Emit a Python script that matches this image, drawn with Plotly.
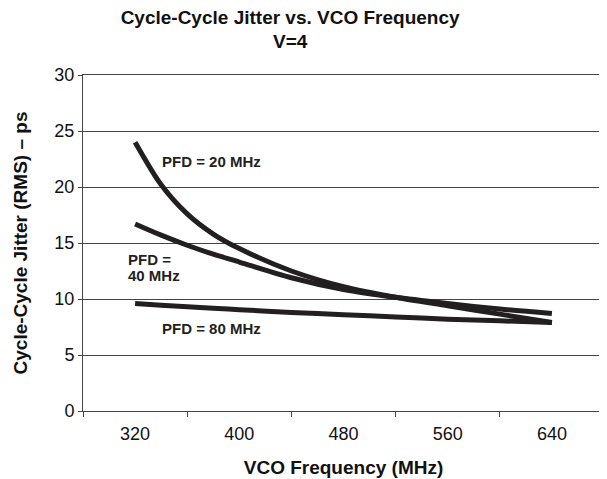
import plotly.graph_objects as go

freq = [320, 340, 360, 380, 400, 440, 480, 520, 560, 600, 640]
pfd20 = [24.0, 20.2, 17.6, 15.8, 14.5, 12.5, 11.1, 10.15, 9.4, 8.65, 7.9]
pfd40 = [16.7, 15.7, 14.8, 14.0, 13.3, 11.9, 10.85, 10.15, 9.6, 9.1, 8.7]
pfd80 = [9.6, 9.45, 9.3, 9.17, 9.05, 8.8, 8.6, 8.4, 8.2, 8.05, 7.9]

x_labels = [320, 400, 480, 560, 640]
x_ticks = [280, 360, 440, 520, 600, 680]
y_ticks = [0, 5, 10, 15, 20, 25, 30]

line_color = "#231f20"
font = "Liberation Sans, Arial, sans-serif"

fig = go.Figure()
for ys in (pfd20, pfd40, pfd80):
    fig.add_trace(go.Scatter(x=freq, y=ys, mode="lines",
                             line=dict(color=line_color, width=5, shape="spline",
                                       smoothing=0.8),
                             showlegend=False, hoverinfo="skip"))

ann_font = dict(family=font, size=15, color="#231f20")
fig.add_annotation(x=339, y=22.3, text="<b>PFD = 20 MHz</b>", showarrow=False,
                   xanchor="left", yanchor="middle", font=ann_font)
fig.add_annotation(x=313, y=13.57, text="<b>PFD =</b>", showarrow=False,
                   xanchor="left", yanchor="middle", font=ann_font)
fig.add_annotation(x=313, y=12.14, text="<b>40 MHz</b>", showarrow=False,
                   xanchor="left", yanchor="middle", font=ann_font)
fig.add_annotation(x=339, y=7.4, text="<b>PFD = 80 MHz</b>", showarrow=False,
                   xanchor="left", yanchor="middle", font=ann_font)

fig.update_layout(
    width=599, height=471,
    margin=dict(l=75, r=3, t=67, b=68),
    paper_bgcolor="white", plot_bgcolor="white",
    font=dict(family=font, color="#111"),
    title=dict(text="<b>Cycle-Cycle Jitter vs. VCO Frequency<br>V=4</b>",
               x=0.471, xanchor="center", xref="container",
               y=0.967, yanchor="top",
               font=dict(family=font, size=19, color="#111")),
    xaxis=dict(range=[280, 680], tickmode="array", tickvals=x_labels,
               ticktext=[str(v) for v in x_labels], ticks="", ticklabelstandoff=6,
               showgrid=False, zeroline=False, showline=True, linecolor="#444",
               linewidth=1, mirror=True,
               tickfont=dict(family=font, size=18, color="#111"),
               minor=dict(tickmode="array", tickvals=x_ticks, ticks="outside",
                          ticklen=5, tickcolor="#444", showgrid=False),
               title=dict(text="<b>VCO Frequency (MHz)</b>", standoff=18,
                          font=dict(family=font, size=19, color="#111"))),
    yaxis=dict(range=[0, 30], tickmode="array", tickvals=y_ticks,
               ticks="outside", ticklen=4, tickcolor="#444",
               showgrid=True, gridcolor="#444", gridwidth=1,
               zeroline=False, showline=True, linecolor="#444", linewidth=1,
               mirror=True,
               tickfont=dict(family=font, size=18, color="#111"),
               title=dict(text="<b>Cycle-Cycle Jitter (RMS) – ps</b>", standoff=21,
                          font=dict(family=font, size=19, color="#111"))),
)

fig.write_html("out.html")
